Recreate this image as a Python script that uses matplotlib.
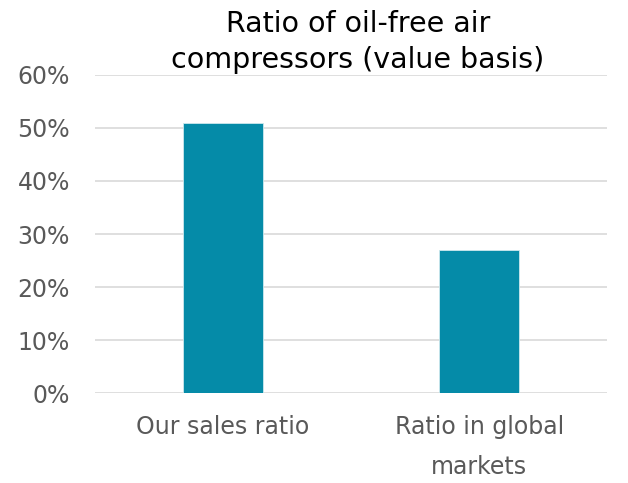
import matplotlib
matplotlib.use("Agg")
import matplotlib.pyplot as plt
from matplotlib.ticker import FuncFormatter

categories = ["Our sales ratio", "Ratio in global\nmarkets"]
ratios = [51, 27]

plt.rcParams['font.family'] = ['DejaVu Sans']

fig = plt.figure(figsize=(6.28, 4.83), dpi=100)
ax = fig.add_axes([0.151, 0.186, 0.816, 0.659])

x = range(len(categories))
ax.bar(x, ratios, width=0.31, color='#058ba8', edgecolor='#cde9ee', linewidth=0.6, zorder=3)

ax.set_xlim(-0.5, len(categories) - 0.5)
ax.set_ylim(0, 60)
ax.set_yticks(range(0, 61, 10))
ax.yaxis.set_major_formatter(FuncFormatter(lambda v, p: '%d%%' % v))
ax.grid(axis='y', color='#d9d9d9', linewidth=1.2, zorder=0)
for s in ax.spines.values():
    s.set_visible(False)
ax.tick_params(axis='both', length=0, labelsize=17, colors='#595959')
ax.tick_params(axis='y', pad=18)
ax.tick_params(axis='x', pad=16)
ax.set_xticks(list(x))
ax.set_xticklabels(categories, linespacing=1.8)

fig.text(0.57, 0.913, "Ratio of oil-free air\ncompressors (value basis)",
         ha='center', va='center', fontsize=20.5, color='#000000', linespacing=1.4)

fig.savefig("out.png", dpi=100)
